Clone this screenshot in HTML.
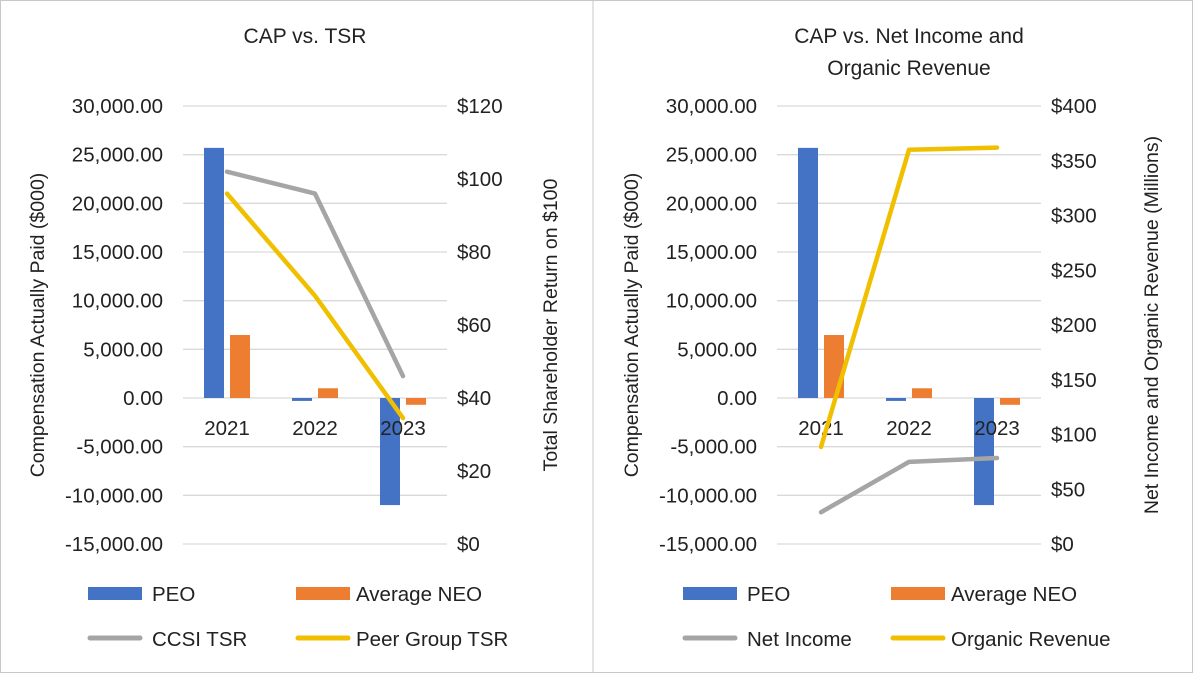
<!DOCTYPE html>
<html><head><meta charset="utf-8"><style>
body{margin:0;background:#fff;font-family:"Liberation Sans",sans-serif;}
svg text{font-family:"Liberation Sans",sans-serif;fill:#222;}
</style></head><body>
<svg id="c" width="1194" height="674" viewBox="0 0 1194 674">
<rect x="0.5" y="0.5" width="1192" height="672" fill="#fff" stroke="#c8c8c8"/>
<line x1="593" y1="0" x2="593" y2="673" stroke="#c8c8c8"/>
</svg>
<script>
const years = ["2021","2022","2023"];
const peo = [25700, -300, -11000];
const neo = [6470, 1000, -700];
const ccsiTsr = [102, 96, 46];
const peerTsr = [96, 68, 34.5];
const netIncome = [29, 75, 78.5];
const organicRevenue = [88.6, 360, 362];
const leftTicks = ["30,000.00","25,000.00","20,000.00","15,000.00","10,000.00","5,000.00","0.00","-5,000.00","-10,000.00","-15,000.00"];
const tsrTicks = ["$120","$100","$80","$60","$40","$20","$0"];
const revTicks = ["$400","$350","$300","$250","$200","$150","$100","$50","$0"];

const svg = document.getElementById('c');
const NS = 'http://www.w3.org/2000/svg';
function mk(tag, attrs, text){const e=document.createElementNS(NS,tag);for(const k in attrs)e.setAttribute(k,attrs[k]);if(text!==undefined)e.textContent=text;svg.appendChild(e);return e;}

function chart(o){
  const top=106,bot=544,x0=o.x0,x1=o.x0+264;
  const yL=v=>bot-(v+15000)/45000*(bot-top);
  const yR=v=>bot-v/o.rmax*(bot-top);
  const cw=(x1-x0)/3, cx=i=>x0+cw*(i+0.5);
  o.title.forEach((t,i)=>{const e=mk('text',{x:o.tx,y:43+i*32,'text-anchor':'middle','font-size':21},t);
    
    });
  leftTicks.forEach((t,i)=>{const y=top+i*(bot-top)/9;
    const g=mk('line',{x1:x0,x2:x1,y1:y,y2:y,stroke:'#d9d9d9','stroke-width':1.3});
    
    
    const e=mk('text',{x:x0-20,y:y+7,'text-anchor':'end','font-size':20.5},t);
    
    });
  o.rt.forEach((t,i)=>{const y=top+i*(bot-top)/(o.rt.length-1);
    const e=mk('text',{x:x1+10,y:y+7,'font-size':20.5},t);
    
    });
  const bw=20;
  years.forEach((yr,i)=>{
    const a=yL(peo[i]),z=yL(0);
    const b=mk('rect',{x:cx(i)-bw-3,y:Math.min(a,z),width:bw,height:Math.abs(a-z),fill:'#4472c4'});
    
    
    const c=yL(neo[i]);
    const n=mk('rect',{x:cx(i)+3,y:Math.min(c,z),width:bw,height:Math.abs(c-z),fill:'#ed7d31'});
    
    
    const t=mk('text',{x:cx(i),y:435,'text-anchor':'middle','font-size':20.5},yr);
    
    
  });
  [[o.s1,'#a5a5a5',o.n1],[o.s2,'#f0c000',o.n2]].forEach(([s,col,nm])=>{
    const p=mk('polyline',{points:s.map((v,i)=>cx(i)+','+yR(v)).join(' '),fill:'none',stroke:col,'stroke-width':4.5,'stroke-linecap':'round','stroke-linejoin':'round'});
    
    
  });
  const lt=mk('text',{transform:`translate(${o.lx},325) rotate(-90)`,'text-anchor':'middle','font-size':19.5},'Compensation Actually Paid ($000)');
  
  
  const rt=mk('text',{transform:`translate(${o.rx},325) rotate(-90)`,'text-anchor':'middle','font-size':19.5},o.rtitle);
  
  
  const L=o.leg;
  const s1=mk('rect',{x:L,y:587,width:54,height:13,fill:'#4472c4'});
  
  
  const s2=mk('rect',{x:L+208,y:587,width:54,height:13,fill:'#ed7d31'});
  
  
  const s3=mk('line',{x1:L+2,x2:L+52,y1:638,y2:638,stroke:'#a5a5a5','stroke-width':5,'stroke-linecap':'round'});
  
  
  const s4=mk('line',{x1:L+210,x2:L+260,y1:638,y2:638,stroke:'#f0c000','stroke-width':5,'stroke-linecap':'round'});
  
  
  [['PEO',L+64,601],['Average NEO',L+268,601],[o.n1,L+64,646],[o.n2,L+268,646]].forEach(([t,x,y])=>{
    const e=mk('text',{x:x,y:y,'font-size':20.5},t);
    
    
  });
}
chart({x0:183,tx:305,title:['CAP vs. TSR'],rt:tsrTicks,rmax:120,s1:ccsiTsr,s2:peerTsr,n1:'CCSI TSR',n2:'Peer Group TSR',lx:44,rx:557,rtitle:'Total Shareholder Return on $100',leg:88});
chart({x0:777,tx:909,title:['CAP vs. Net Income and','Organic Revenue'],rt:revTicks,rmax:400,s1:netIncome,s2:organicRevenue,n1:'Net Income',n2:'Organic Revenue',lx:638,rx:1158,rtitle:'Net Income and Organic Revenue (Millions)',leg:683});
</script>
</body></html>
